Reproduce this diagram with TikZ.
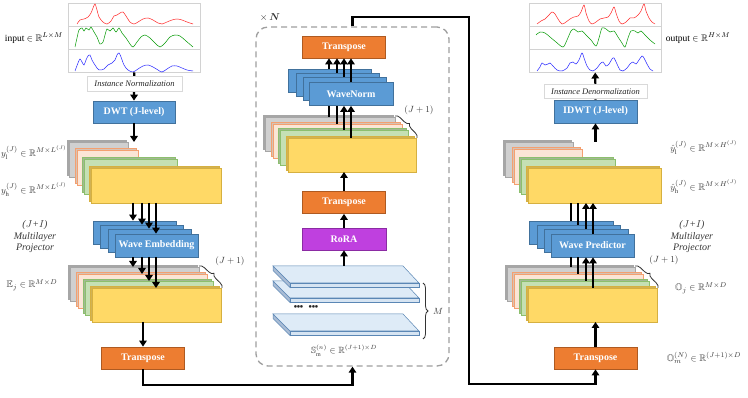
\documentclass[tikz,border=0pt]{standalone}
\usepackage{amsmath,amssymb}
\usepackage{fontspec}
\setmainfont{Liberation Serif}
\usetikzlibrary{arrows.meta,shadows,decorations.pathreplacing,calc}
\definecolor{blueF}{HTML}{5B9BD5}
\definecolor{blueD}{HTML}{41719C}
\definecolor{orgF}{HTML}{ED7D31}
\definecolor{orgD}{HTML}{AE5A21}
\definecolor{purF}{HTML}{BF40DF}
\definecolor{purD}{HTML}{8B2BA3}
\definecolor{grayF}{HTML}{D0D0D0}
\definecolor{grayD}{HTML}{A6A6A6}
\definecolor{peachF}{HTML}{FBE5D6}
\definecolor{peachD}{HTML}{F4A070}
\definecolor{greenF}{HTML}{C5E0B4}
\definecolor{greenD}{HTML}{8CBF6E}
\definecolor{yelF}{HTML}{FFD966}
\definecolor{yelD}{HTML}{D6B040}
\definecolor{slabF}{HTML}{DEEBF7}
\definecolor{slabD}{HTML}{5B87B5}
\definecolor{slabS}{HTML}{A9BCD5}
\definecolor{txt}{HTML}{383838}
\newcommand{\mylayer}[6]{\node[#6, anchor=north west, minimum width={(#4-#2)*1pt}, minimum height={(#5-#3)*1pt}] (#1) at (#2,#3) {};}
\newcommand{\myslab}[1]{%
  \filldraw[fill=slabS, draw=slabD, line width=0.5pt] (273,#1) -- (290,#1+17) -- (290,#1+21.5) -- (273,#1+4.5) -- cycle;
  \filldraw[fill=slabF, draw=slabD, line width=0.5pt] (273,#1) -- (403,#1) -- (419,#1+17) -- (290,#1+17) -- cycle;
  \filldraw[fill=slabF!85!slabS, draw=slabD, line width=0.5pt] (290,#1+17) rectangle (419,#1+21.5);}
\newcommand{\lowsub}[1]{\lower1.2pt\hbox{$\scriptstyle #1$}}
\begin{document}
\begin{tikzpicture}[x=1pt,y=-1pt,
  arr/.style={line width=2.2pt, -{Triangle[length=6pt,width=7.5pt]}},
  ln/.style={line width=2.2pt},
  lbase/.style={line width=0.6pt, inner sep=0pt, outer sep=0pt},
  lgray/.style={lbase, draw=grayD, fill=grayF, general shadow={shadow xshift=-2pt, shadow yshift=2pt, fill=grayF!80!black, draw=grayD}},
  lpeach/.style={lbase, draw=peachD, fill=peachF, general shadow={shadow xshift=-2pt, shadow yshift=2pt, fill=peachF!85!black, draw=peachD}},
  lgreen/.style={lbase, draw=greenD, fill=greenF, general shadow={shadow xshift=-2pt, shadow yshift=2pt, fill=greenF!82!black, draw=greenD}},
  lyel/.style={lbase, draw=yelD, fill=yelF, general shadow={shadow xshift=-2pt, shadow yshift=2pt, fill=yelF!82!black, draw=yelD}},
  panel/.style={draw=gray!35, fill=white, line width=0.5pt, inner sep=0pt},
  boxfont/.style={font=\fontsize{10}{12}\selectfont\bfseries, text=white},
  bbox/.style={draw=blueD, fill=blueF, line width=0.8pt, boxfont, minimum width=83pt, minimum height=23pt, inner sep=0pt},
  obox/.style={draw=orgD, fill=orgF, line width=0.8pt, boxfont, minimum width=83pt, minimum height=22pt, inner sep=0pt},
  pbox/.style={draw=purD, fill=purF, line width=0.8pt, boxfont, minimum width=84pt, minimum height=22pt, inner sep=0pt},
  tbox/.style={draw=gray!30, fill=white, line width=0.5pt, font=\fontsize{8.5}{10}\selectfont\itshape, text=black!85, inner sep=0pt},
  lab/.style={font=\fontsize{9.5}{11}\selectfont, text=txt, inner sep=0pt},
  mlp/.style={font=\fontsize{10}{11.5}\selectfont\itshape, text=txt, align=center, inner sep=0pt},
  brc/.style={decorate, decoration={brace, amplitude=5pt}, line width=0.8pt, draw=black!80},
  curve/.style={line width=0.5pt, smooth, tension=0.5}
]
\useasboundingbox (0,0) rectangle (748,398);
\fill[white] (0,0) rectangle (748,398);

% ================= LEFT COLUMN =================
\mylayer{pL1}{68}{3}{200}{26}{panel}
\mylayer{pL2}{68}{26}{200}{49}{panel}
\mylayer{pL3}{68}{49}{200}{72}{panel}
\draw[curve, red!85] plot coordinates {(77,24) (80,20) (84,19) (88,17) (91,13) (93,8) (95,4) (97,10) (99,17) (103,22) (107,24) (111,21) (114,16) (117,15) (120,13) (123,12) (126,16) (130,22) (134,24) (138,22) (143,19) (148,18) (153,20) (158,23) (162,24) (167,22) (172,20) (177,19) (182,20) (187,22) (193,24)};
\draw[curve, green!60!black] plot coordinates {(75,47) (77,38) (79,30) (82,28) (84,31) (86,28) (89,30) (91,27) (94,32) (97,37) (100,44) (103,42) (105,35) (107,29) (110,31) (113,28) (116,32) (119,28) (122,33) (126,38) (130,44) (133,47) (137,42) (141,37) (145,35) (150,38) (155,43) (160,47) (165,43) (170,37) (175,35) (180,36) (186,41) (193,47)};
\draw[curve, blue!85] plot coordinates {(75,71) (78,63) (80,59) (82,62) (84,65) (86,60) (88,56) (90,55) (92,60) (95,65) (99,70) (104,69) (108,65) (112,63) (115,60) (117,55) (119,53) (121,57) (124,65) (128,70) (133,72) (138,69) (143,66) (148,65) (153,67) (158,70) (162,72) (167,69) (172,66) (177,66) (182,68) (187,70) (193,71)};
\node[lab, text=black] (inL) at (34,38) {input $\in \mathbb{R}^{L\times M}$};

\node[bbox, minimum width=82pt, minimum height=22pt] (dwt) at (134,112) {DWT (J-level)};
\draw[arr] (pL3.south) -- (dwt.north);
\node[tbox, minimum width=95pt, minimum height=15pt] (norm) at (134.5,83.5) {Instance Normalization};

% top-left stack
\mylayer{lg}{69}{142}{128}{177}{lgray}
\mylayer{lp}{77}{150}{138}{185}{lpeach}
\mylayer{lgr}{84}{159}{177}{194}{lgreen}
\mylayer{ly}{91}{168}{221}{203}{lyel}
\draw[arr] (dwt.south) -- (dwt.south |- lg.north);
\node[lab] (ylL) at (34,153) {$y_{\mathrm{l}}^{(J)} \in \mathbb{R}^{M\times L^{(J)}}$};
\node[lab] (yhL) at (34,190) {$y_{\mathrm{h}}^{(J)} \in \mathbb{R}^{M\times L^{(J)}}$};

% wave embedding
\node[bbox] (we1) at (134.5,232.5) {};
\node[bbox] (we2) at (141.5,236.5) {};
\node[bbox] (we3) at (149.5,240.5) {};
\node[bbox] (we4) at (156.5,245.5) {Wave Embedding};
\draw[arr] (133,0 |- ly.south) -- (133,0 |- we1.north);
\draw[arr] (142,0 |- ly.south) -- (142,0 |- we2.north);
\draw[arr] (149,0 |- ly.south) -- (149,0 |- we3.north);
\draw[arr] (156,0 |- ly.south) -- (156,0 |- we4.north);
\node[mlp] (mlpL) at (35,237) {($J$+$I$)\\Multilayer\\Projector};

% E stack
\mylayer{eg}{70}{267}{199}{301}{lgray}
\mylayer{ep}{78}{274}{207}{308}{lpeach}
\mylayer{egr}{85}{281}{213}{315}{lgreen}
\mylayer{ey}{92}{288}{221}{322}{lyel}
\draw[arr] (133,0 |- we4.south) -- (133,0 |- eg.north);
\draw[arr] (142,0 |- we4.south) -- (142,0 |- ep.north);
\draw[arr] (149,0 |- we4.south) -- (149,0 |- egr.north);
\draw[arr] (156,0 |- we4.south) -- (156,0 |- ey.north);
\draw[brc] ([yshift=1pt]eg.north east) -- ([xshift=1pt]ey.north east);
\node[lab, font=\fontsize{9}{10}\selectfont] (jL) at (230,261) {$(J+1)$};
\node[lab] (eL) at (32,285) {$\mathbb{E}_j \in \mathbb{R}^{M\times D}$};

\node[obox] (tl) at (143,358) {Transpose};
\draw[arr] (tl.north |- ey.south) -- (tl.north);

% ================= MIDDLE BLOCK =================
\node[draw=gray!75, dashed, dash pattern=on 6pt off 4pt, line width=1.3pt, rounded corners=12pt, minimum width=193pt, minimum height=339pt, inner sep=0pt] (blk) at (352.5,196.5) {};
\node[lab, text=black!80, font=\fontsize{10}{11}\selectfont] (xN) at (270,17) {$\times\,\boldsymbol{N}$};

\node[obox] (tt) at (344,47) {Transpose};
\node[bbox] (wn1) at (329.5,81) {};
\node[bbox] (wn2) at (337.5,85) {};
\node[bbox] (wn3) at (344.5,89) {};
\node[bbox, minimum width=84pt] (wn4) at (351,94) {WaveNorm};
\draw[arr] (329,0 |- wn1.north) -- (329,0 |- tt.south);
\draw[arr] (337,0 |- wn2.north) -- (337,0 |- tt.south);
\draw[arr] (344,0 |- wn3.north) -- (344,0 |- tt.south);
\draw[arr] (351,0 |- wn4.north) -- (351,0 |- tt.south);

\mylayer{mg}{265}{117}{395}{151}{lgray}
\mylayer{mp}{273}{124}{402}{158}{lpeach}
\mylayer{mgr}{280}{130}{408}{165}{lgreen}
\mylayer{my}{288}{138}{416}{172}{lyel}
\draw[ln] (329,0 |- mg.north) -- (329,0 |- wn4.south);
\draw[ln] (337,0 |- mp.north) -- (337,0 |- wn4.south);
\draw[arr] (344,0 |- mgr.north) -- (344,0 |- wn4.south);
\draw[arr] (351,0 |- my.north) -- (351,0 |- wn4.south);
\draw[brc] ([yshift=1pt]mg.north east) -- ([xshift=1pt]my.north east);
\node[lab, font=\fontsize{9}{10}\selectfont] (jM) at (419,110) {$(J+1)$};

\node[obox] (tm) at (344,202.5) {Transpose};
\draw[arr] (tm.north) -- (tm.north |- my.south);
\node[pbox] (rora) at (344,239) {RoRA};
\draw[arr] (rora.north) -- (tm.south);

\myslab{314}
\myslab{281}
\myslab{266}
\coordinate (stop) at (344,266);
\draw[arr] (stop) -- (rora.south);
\node[inner sep=0pt, anchor=base, font=\fontsize{11}{11}\selectfont, text=black!85] (dots) at (306,311) {\textbullet\hspace{-0.8pt}\textbullet\hspace{-0.8pt}\textbullet\hspace{5pt}\textbullet\hspace{-0.8pt}\textbullet\hspace{-0.8pt}\textbullet};
\draw[brc] (423,283) -- (423,339);
\node[lab, font=\fontsize{9.5}{10}\selectfont] (mM) at (438,311) {$M$};
\node[lab, font=\fontsize{9}{10}\selectfont] (sL) at (344,351) {$\mathbb{S}_{\lowsub{\mathrm{m}}}^{(n)} \in \mathbb{R}^{(J+1)\times D}$};

% ================= RIGHT COLUMN =================
\mylayer{pR1}{529}{3}{661}{26}{panel}
\mylayer{pR2}{529}{26}{661}{49}{panel}
\mylayer{pR3}{529}{49}{661}{72}{panel}
\draw[curve, red!85] plot coordinates {(537,24) (541,21) (545,19) (549,15) (552,12) (555,14) (558,19) (562,24) (566,22) (570,19) (574,17) (578,16) (581,12) (584,5) (586,13) (589,21) (592,24) (596,22) (600,19) (604,18) (608,17) (611,13) (614,7) (616,13) (619,21) (622,24) (626,22) (630,18) (634,18) (638,15) (641,11) (644,4) (646,11) (649,18) (652,22) (655,24)};
\draw[curve, green!60!black] plot coordinates {(536,35) (540,32) (545,33) (550,37) (556,42) (563,47) (567,40) (571,31) (574,29) (578,32) (582,31) (586,35) (591,40) (596,46) (599,38) (602,28) (606,29) (610,32) (614,31) (618,37) (622,43) (625,47) (628,38) (631,31) (635,31) (638,33) (641,31) (645,35) (650,40) (655,44)};
\draw[curve, blue!85] plot coordinates {(537,71) (540,67) (542,63) (545,65) (548,64) (550,63) (553,66) (557,70) (562,71) (567,68) (570,63) (573,62) (576,64) (579,60) (582,53) (584,58) (587,66) (590,70) (593,71) (597,68) (600,64) (603,62) (606,66) (609,64) (612,59) (614,58) (617,64) (620,70) (623,71) (627,68) (630,64) (633,62) (636,64) (639,60) (642,56) (644,58) (647,64) (650,69) (653,71)};
\node[lab, text=black] (outL) at (698,38) {output $\in \mathbb{R}^{H\times M}$};

\node[bbox] (idwt) at (595.5,111.5) {IDWT (J-level)};
\draw[arr] (idwt.north) -- (pR3.south);
\node[tbox, minimum width=103pt, minimum height=14pt] (denorm) at (595.5,91.5) {Instance Denormalization};

\mylayer{rg}{505}{142}{573}{177}{lgray}
\mylayer{rp}{514}{149}{582}{184}{lpeach}
\mylayer{rgr}{521}{159}{615}{194}{lgreen}
\mylayer{ry}{528}{168}{661}{203}{lyel}
\draw[arr] (idwt.south |- rg.north) -- (idwt.south);
\node[lab] (ylR) at (704,148) {$\hat{y}_{\mathrm{l}}^{(J)} \in \mathbb{R}^{M\times H^{(J)}}$};
\node[lab] (yhR) at (704,187) {$\hat{y}_{\mathrm{h}}^{(J)} \in \mathbb{R}^{M\times H^{(J)}}$};

\node[bbox, minimum width=84pt] (wp1) at (571,232.5) {};
\node[bbox] (wp2) at (578.5,236.5) {};
\node[bbox, minimum width=84pt] (wp3) at (586,240.5) {};
\node[bbox] (wp4) at (592.5,245.5) {Wave Predictor};
\draw[ln] (571,0 |- wp1.north) -- (571,0 |- ry.south);
\draw[ln] (578,0 |- wp2.north) -- (578,0 |- ry.south);
\draw[arr] (586,0 |- wp3.north) -- (586,0 |- ry.south);
\draw[arr] (593,0 |- wp4.north) -- (593,0 |- ry.south);
\node[mlp] (mlpR) at (692,237) {($J$+$I$)\\Multilayer\\Projector};

\mylayer{og}{507}{267}{635}{301}{lgray}
\mylayer{op}{514}{274}{643}{308}{lpeach}
\mylayer{ogr}{521}{281}{649}{315}{lgreen}
\mylayer{oy}{528}{288}{657}{322}{lyel}
\draw[ln] (571,0 |- og.north) -- (571,0 |- wp4.south);
\draw[ln] (578,0 |- op.north) -- (578,0 |- wp4.south);
\draw[arr] (586,0 |- ogr.north) -- (586,0 |- wp4.south);
\draw[arr] (593,0 |- oy.north) -- (593,0 |- wp4.south);
\draw[brc] ([yshift=1pt]og.north east) -- ([xshift=1pt]oy.north east);
\node[lab, font=\fontsize{9}{10}\selectfont] (jR) at (664,260) {$(J+1)$};
\node[lab] (oL) at (701,288) {$\mathbb{O}_j \in \mathbb{R}^{M\times D}$};

\node[obox] (tr) at (595.5,358) {Transpose};
\draw[arr] (tr.north) -- (tr.north |- oy.south);
\node[lab] (omL) at (704,358) {$\mathbb{O}_{\lowsub{m}}^{(N)} \in \mathbb{R}^{(J+1)\times D}$};

% ================= CONNECTORS =================
\coordinate (turn) at (469,17);
\draw[arr] (tl.south) |- ([yshift=-18pt]blk.south) -- (blk.south);
\draw[arr] (blk.north) |- (turn) |- ([yshift=-15pt]tr.south) -- (tr.south);
\end{tikzpicture}
\end{document}
